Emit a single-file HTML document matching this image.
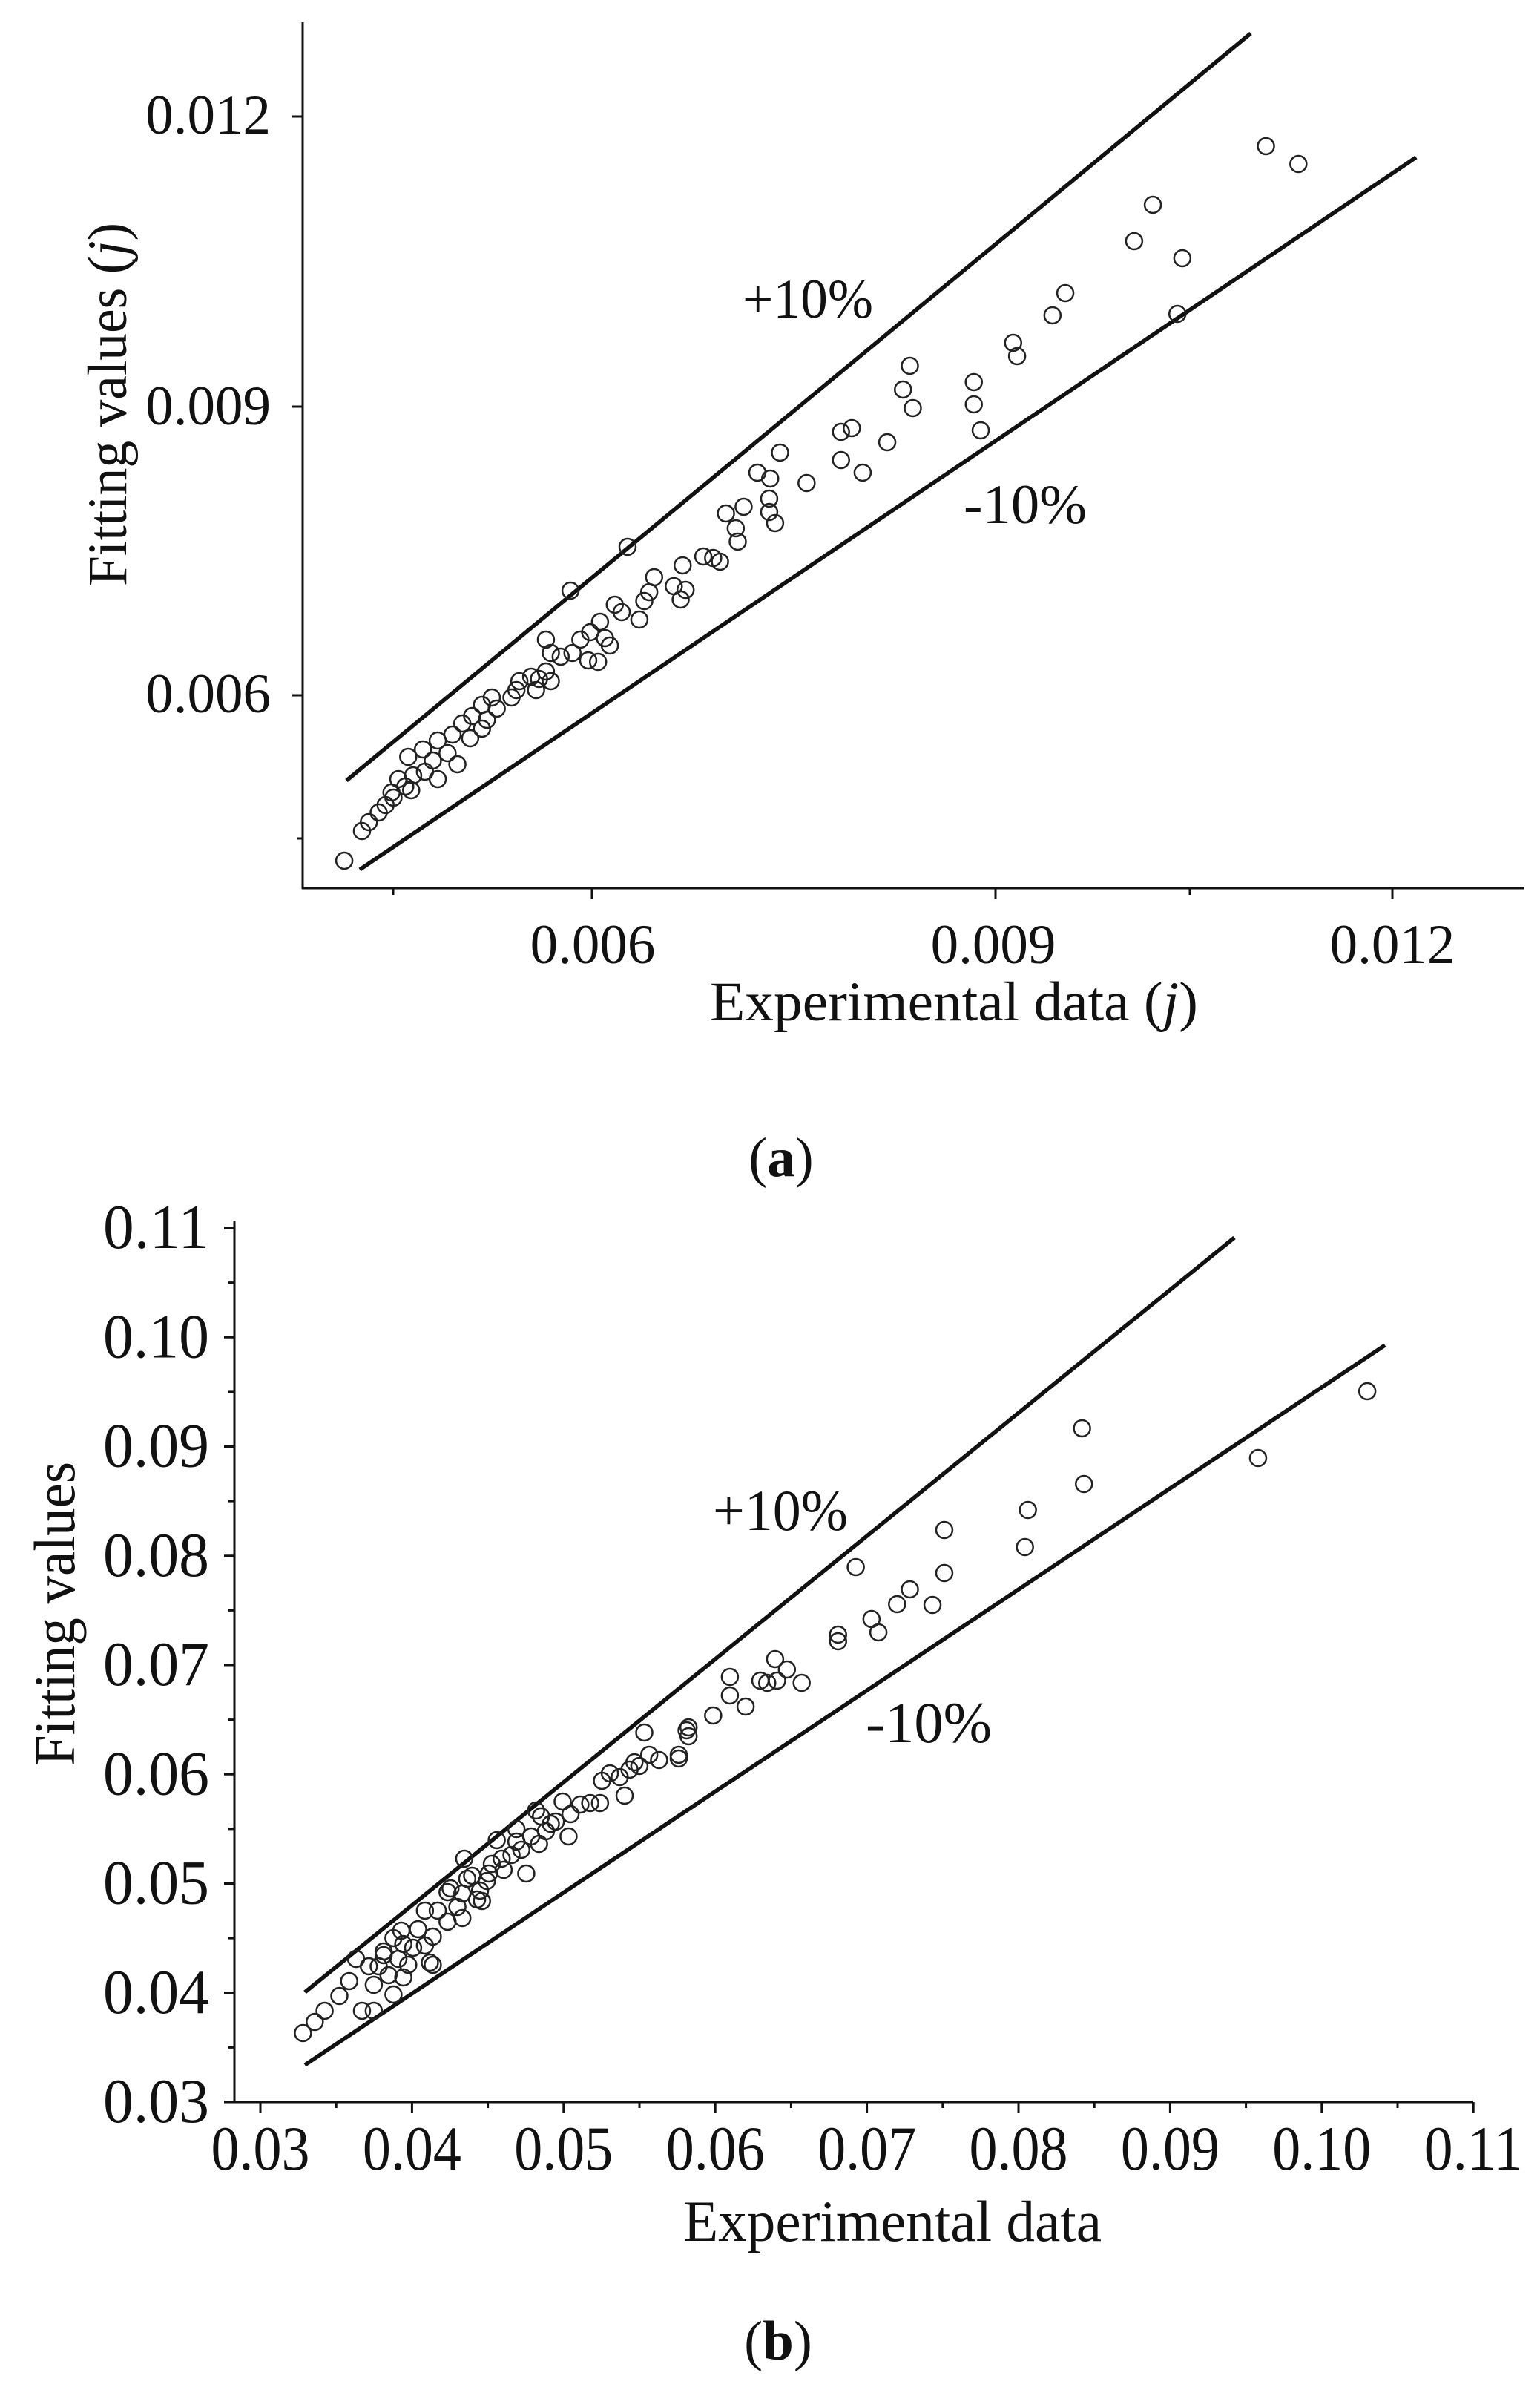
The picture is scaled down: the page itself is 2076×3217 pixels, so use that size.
<!DOCTYPE html>
<html><head><meta charset="utf-8"><style>
html,body{margin:0;padding:0;background:#fff;}
svg{display:block;}
text{font-family:"Liberation Serif",serif;fill:#111;}
</style></head><body>
<svg id="s" width="2076" height="3217" viewBox="0 0 2076 3217" xmlns="http://www.w3.org/2000/svg">
<rect width="2076" height="3217" fill="#fff"/>
<g stroke="#111" stroke-width="3" fill="none">
<line x1="408" y1="30" x2="408" y2="1198"/>
<line x1="407" y1="1197" x2="2055" y2="1197"/>
<line x1="394" y1="157" x2="408" y2="157"/>
<line x1="394" y1="548" x2="408" y2="548"/>
<line x1="394" y1="937" x2="408" y2="937"/>
<line x1="400" y1="1130" x2="408" y2="1130"/>
<line x1="798" y1="1197" x2="798" y2="1212"/>
<line x1="1342" y1="1197" x2="1342" y2="1212"/>
<line x1="1877" y1="1197" x2="1877" y2="1212"/>
<line x1="530" y1="1197" x2="530" y2="1206"/>
<line x1="1604" y1="1197" x2="1604" y2="1206"/>
</g>
<g stroke="#111" stroke-width="5.5">
<line x1="467" y1="1052" x2="1686" y2="45"/>
<line x1="485" y1="1172" x2="1909" y2="212"/>
</g>
<g font-size="75" text-anchor="end">
<text x="365" y="180">0.012</text>
<text x="365" y="572">0.009</text>
<text x="365" y="960">0.006</text>
</g>
<g font-size="75" text-anchor="middle">
<text x="799" y="1298">0.006</text>
<text x="1339" y="1298">0.009</text>
<text x="1877" y="1298">0.012</text>
</g>
<text x="957" y="1375" font-size="75" textLength="658" lengthAdjust="spacingAndGlyphs">Experimental data (<tspan font-style="italic">j</tspan>)</text>
<text transform="translate(170,545) rotate(-90)" font-size="75" text-anchor="middle" textLength="490" lengthAdjust="spacingAndGlyphs">Fitting values (<tspan font-style="italic">j</tspan>)</text>
<text x="1001" y="428" font-size="75" textLength="176" lengthAdjust="spacingAndGlyphs">+10%</text>
<text x="1299" y="705" font-size="75" textLength="166" lengthAdjust="spacingAndGlyphs">-10%</text>
<text x="1053" y="1585" font-size="75" text-anchor="middle">(<tspan font-weight="bold">a</tspan>)</text>

<g stroke="#111" stroke-width="3" fill="none" id="axb">
<line x1="316" y1="1645" x2="316" y2="2834"/>
<line x1="315" y1="2833" x2="1986" y2="2833"/>
</g>
<g stroke="#111" stroke-width="5.5">
<line x1="411" y1="2685" x2="1664" y2="1668"/>
<line x1="411" y1="2783" x2="1867" y2="1813"/>
</g>
<g font-size="85" text-anchor="end" id="ylb"></g>
<g font-size="85" text-anchor="middle" id="xlb"></g>
<text x="921" y="3020" font-size="78" textLength="564" lengthAdjust="spacingAndGlyphs">Experimental data</text>
<text transform="translate(100,2175) rotate(-90)" font-size="78" text-anchor="middle" textLength="410" lengthAdjust="spacingAndGlyphs">Fitting values</text>
<text x="961" y="2062" font-size="78" textLength="182" lengthAdjust="spacingAndGlyphs">+10%</text>
<text x="1167" y="2348" font-size="78" textLength="170" lengthAdjust="spacingAndGlyphs">-10%</text>
<text x="1049" y="3180" font-size="75" text-anchor="middle">(<tspan font-weight="bold">b</tspan>)</text>
<g id="pts" fill="none" stroke="#222" stroke-width="2.5"></g>
</svg>
<script>
var NS="http://www.w3.org/2000/svg";
function el(t,a,p,txt){var e=document.createElementNS(NS,t);for(var k in a)e.setAttribute(k,a[k]);if(txt)e.textContent=txt;p.appendChild(e);return e;}
var ax=document.getElementById('axb'),yl=document.getElementById('ylb'),xl=document.getElementById('xlb');
var ylab=["0.03","0.04","0.05","0.06","0.07","0.08","0.09","0.10","0.11"];
for(var i=0;i<=16;i++){var y=2833-i*73.625;var maj=i%2==0;
 el('line',{x1:maj?302:308,y1:y,x2:316,y2:y},ax);
 if(maj)el('text',{x:282,y:y+27,textLength:143,lengthAdjust:"spacingAndGlyphs"},yl,ylab[i/2]);}
for(var i=0;i<=16;i++){var x=351+i*102.2;var maj=i%2==0;
 el('line',{x1:x,y1:2833,x2:x,y2:maj?2848:2841},ax);
 if(maj)el('text',{x:x,y:2924,textLength:133,lengthAdjust:"spacingAndGlyphs"},xl,ylab[i/2]);}
var A=[[1287,197],[1320,221],[1172,276],[1153,325],[1202,348],[1083,395],[1070,425],[1197,423],[1030,462],[1034,480],[925,493],[918,525],[928,550],[990,515],[990,545],[997,580],[855,582],[866,577],[902,596],[793,610],[770,637],[783,645],[855,620],[877,637],[820,651],[782,672],[738,692],[756,683],[748,712],[782,690],[788,705],[750,730],[715,750],[725,752],[732,757],[694,762],[697,795],[692,808],[665,778],[660,798],[655,810],[638,737],[580,796],[625,815],[632,825],[610,838],[650,835],[600,852],[620,870],[590,862],[582,880],[598,890],[608,892],[555,862],[560,880],[555,905],[560,918],[548,915],[540,912],[528,918],[525,930],[520,940],[505,955],[495,970],[490,950],[480,965],[490,982],[470,975],[478,995],[460,990],[445,998],[455,1015],[440,1025],[432,1040],[420,1045],[415,1020],[412,1060],[405,1050],[400,1075],[392,1085],[385,1095],[375,1108],[368,1120],[350,1160],[430,1010],[465,1030],[500,940],[545,930],[570,885],[615,860],[685,790],[445,1050],[398,1068],[418,1065]];
var B=[[1390,275],[1279,365],[1100,325],[1102,400],[1045,435],[1042,485],[960,462],[960,520],[948,563],[925,542],[912,562],[893,600],[886,582],[870,512],[852,603],[852,612],[788,636],[800,650],[790,665],[815,668],[773,665],[780,668],[742,660],[742,685],[758,700],[725,712],[700,728],[698,732],[690,765],[670,772],[660,765],[655,735],[645,775],[640,785],[630,795],[635,820],[612,800],[610,830],[600,830],[590,832],[580,845],[572,828],[578,875],[565,855],[555,868],[548,885],[540,875],[530,893],[535,925],[520,900],[525,882],[510,905],[500,912],[495,935],[480,928],[488,948],[485,960],[470,985],[475,932],[465,970],[458,945],[455,990],[445,975],[440,1010],[432,975],[425,1000],[420,1025],[415,1048],[410,1020],[405,1040],[400,1012],[395,1062],[390,1030],[385,1050],[380,1075],[375,1050],[368,1110],[380,1110],[362,1040],[355,1070],[345,1090],[330,1110],[320,1125],[308,1140],[390,1035],[410,1065],[440,1048],[455,950],[472,905],[505,880],[512,920],[545,840],[560,858],[620,790],[650,780],[690,770],[700,740],[408,1002],[400,1088],[432,1022],[437,1045],[470,952],[490,962],[497,925],[525,865],[550,848]];
var g=document.getElementById('pts');
A.forEach(function(p){el('circle',{cx:p[0]*1.326,cy:p[1],r:11},g);});
B.forEach(function(p){el('circle',{cx:p[0]*1.326,cy:p[1]+1600,r:11},g);});
</script>
</body></html>
